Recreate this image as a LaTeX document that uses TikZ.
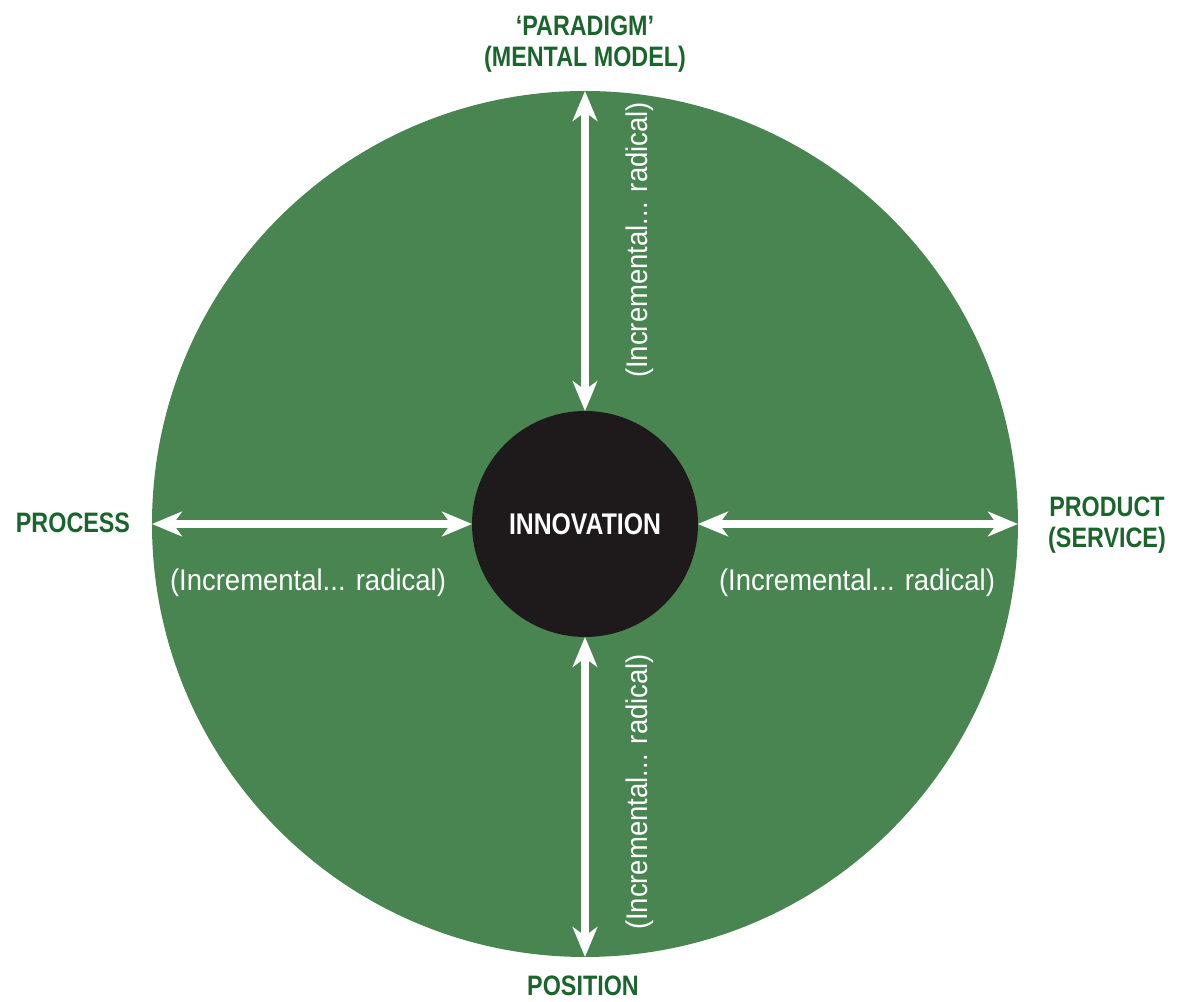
\documentclass[tikz,border=0pt]{standalone}
\usepackage{fontspec}
\setmainfont{Liberation Sans}
\newfontfamily\condfont[FakeStretch=0.83]{Liberation Sans}
\newfontfamily\rangefont[FakeStretch=0.92]{Liberation Sans}
\usetikzlibrary{arrows.meta}
\definecolor{wheelgreen}{RGB}{72,133,80}
\definecolor{labelgreen}{RGB}{28,100,45}
\definecolor{hubblack}{RGB}{30,26,27}

\begin{document}
\begin{tikzpicture}[
    axisarrow/.style={white, line width=4pt,
      {Stealth[length=17pt,width=14pt,inset=5pt]}-{Stealth[length=17pt,width=14pt,inset=5pt]}},
    dimlabel/.style={labelgreen, align=center,
      font=\condfont\bfseries\fontsize{16}{17.5}\selectfont},
    rangelabel/.style={white, font=\rangefont\fontsize{17}{19}\selectfont}
  ]
  \useasboundingbox (-11.7,-9.56) rectangle (11.84,10.48);

  % Wheel and hub
  \node[circle, fill=wheelgreen, minimum size=17.32cm, inner sep=0pt, outer sep=0pt]
    (wheel) at (0,0) {};
  \node[circle, fill=hubblack, minimum size=4.52cm, inner sep=0pt, outer sep=0pt,
    text=white, font=\condfont\bfseries\fontsize{17}{19}\selectfont]
    (hub) at (0,0) {INNOVATION};

  % Four axes
  \draw[axisarrow] (hub.north) -- (wheel.north);
  \draw[axisarrow] (hub.south) -- (wheel.south);
  \draw[axisarrow] (hub.west) -- (wheel.west);
  \draw[axisarrow] (hub.east) -- (wheel.east);

  % Dimensions
  \node[dimlabel] (paradigm) at (0,9.6) {‘PARADIGM’\\(MENTAL MODEL)};
  \node[dimlabel] (process) at (-10.24,0.02) {PROCESS};
  \node[dimlabel] (product) at (10.44,-0.02) {PRODUCT\\(SERVICE)};
  \node[dimlabel] (position) at (-0.04,-9.24) {POSITION};

  % Incremental ... radical
  \node[rangelabel] (rangeW) at (-5.54,-1.18) {(Incremental... radical)};
  \node[rangelabel] (rangeE) at (5.44,-1.18) {(Incremental... radical)};
  \node[rangelabel, rotate=90] (rangeN) at (1.1,5.68) {(Incremental... radical)};
  \node[rangelabel, rotate=90] (rangeS) at (1.1,-5.36) {(Incremental... radical)};
\end{tikzpicture}
\end{document}
